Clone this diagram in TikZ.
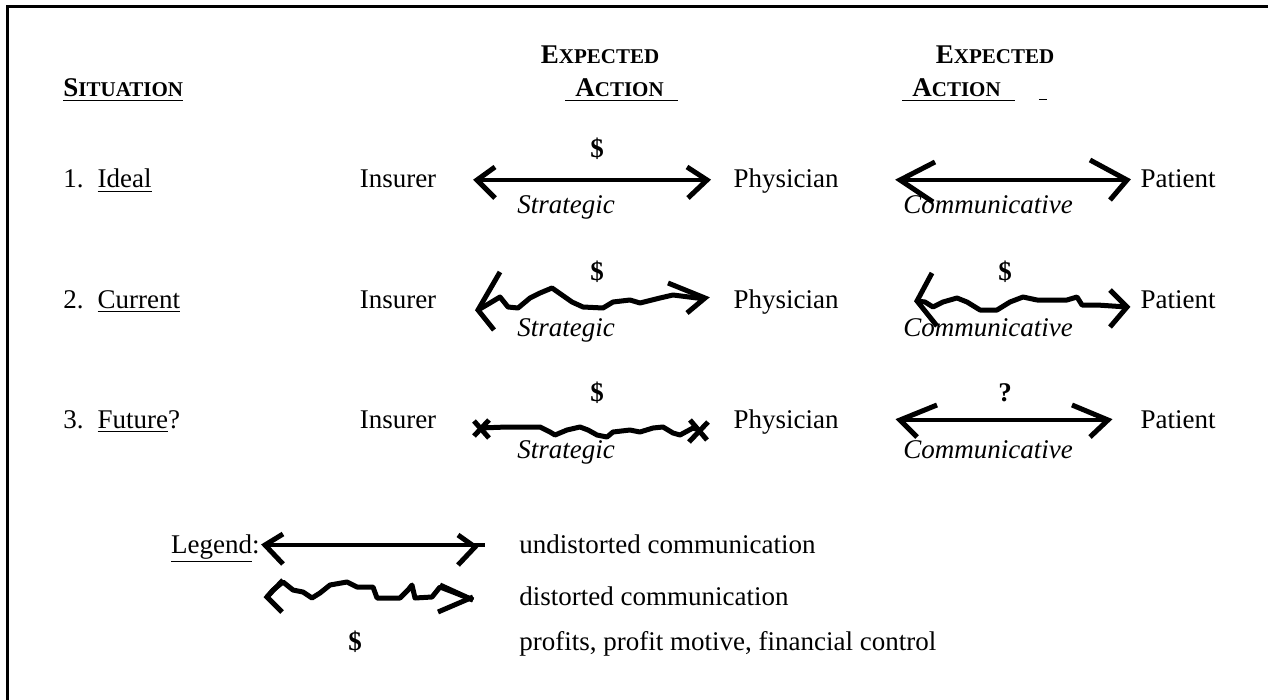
\documentclass[tikz,border=0pt]{standalone}
\usepackage{fontspec}
\setmainfont{Liberation Serif}

\begin{document}
\begin{tikzpicture}[x=0.5pt,y=-0.5pt,
    every node/.style={inner sep=0pt,font=\fontsize{13.5}{16}\selectfont},
    txt/.style={anchor=base},
    lbl/.style={anchor=base west},
    frameline/.style={line width=1.5pt},
    plainline/.style={line width=2pt},
    bentline/.style={line width=2.5pt,line join=round},
    barb/.style={line width=2.5pt}]
        \useasboundingbox (0,0) rectangle (1268,700);
        \draw[frameline] (7,700) -- (7,7) -- (1268,7);
        % headings
        \node[lbl] (sit) at (63,97) {\bfseries\underline{S{\fontsize{10.5}{12}\selectfont ITUATION}}};
        \node[txt] (exp1) at (600,64) {\bfseries E{\fontsize{10.5}{12}\selectfont XPECTED}};
        \node[lbl] (act1) at (565,97) {\bfseries\underline{\hspace{5pt}A{\fontsize{10.5}{12}\selectfont CTION}\hspace{7pt}}};
        \node[txt] (exp2) at (995,64) {\bfseries E{\fontsize{10.5}{12}\selectfont XPECTED}};
        \node[lbl] (act2) at (902,97) {\bfseries\underline{\hspace{5pt}A{\fontsize{10.5}{12}\selectfont CTION}\hspace{7pt}}\hspace{12pt}\underline{\hspace{4pt}}};
        % rows
        \node[lbl] (sit1) at (63,188) {1.\hspace{7pt}\underline{Ideal}};
        \node[lbl] (sit2) at (63,308) {2.\hspace{7pt}\underline{Current}};
        \node[lbl] (sit3) at (63,428) {3.\hspace{7pt}\underline{Future}?};
        \node[txt] (ins1) at (398,188) {Insurer};
        \node[txt] (ins2) at (398,308) {Insurer};
        \node[txt] (ins3) at (398,428) {Insurer};
        \node[txt] (phy1) at (786,188) {Physician};
        \node[txt] (phy2) at (786,308) {Physician};
        \node[txt] (phy3) at (786,428) {Physician};
        \node[anchor=base east] (pat1) at (1216,188) {Patient};
        \node[anchor=base east] (pat2) at (1216,308) {Patient};
        \node[anchor=base east] (pat3) at (1216,428) {Patient};
        \node[txt] (dol1) at (597,158) {\bfseries\$};
        \node[txt] (dol2) at (597,280) {\bfseries\$};
        \node[txt] (dol3) at (1005,280) {\bfseries\$};
        \node[txt] (dol4) at (597,401) {\bfseries\$};
        \node[txt] (ask) at (1005,401) {\bfseries ?};
        \node[txt] (str1) at (566,214) {\itshape Strategic};
        \node[txt] (str2) at (566,336) {\itshape Strategic};
        \node[txt] (str3) at (566,458) {\itshape Strategic};
        \node[lbl] (com1) at (903,214) {\itshape Communicative};
        \node[lbl] (com2) at (903,336) {\itshape Communicative};
        \node[lbl] (com3) at (903,458) {\itshape Communicative};
        % arrow ends
        \coordinate (a1) at (477,180);
        \coordinate (b1) at (707,180);
        \coordinate (c1) at (900,180);
        \coordinate (d1) at (1127,180);
        \coordinate (a2) at (478,310);
        \coordinate (b2) at (705,298);
        \coordinate (c2) at (917,301);
        \coordinate (d2) at (1127,307);
        \coordinate (a3) at (480,428);
        \coordinate (b3) at (699,430);
        \coordinate (c3) at (900,420);
        \coordinate (d3) at (1108,420);
        % 1. ideal
        \draw[plainline] (a1) -- (b1);
        \draw[barb] (a1) ++(18,-13) -- (a1) -- ++(18,18);
        \draw[barb] (b1) ++(-20,-13) -- (b1) -- ++(-19,18);
        \draw[plainline] (c1) -- (d1);
        \draw[barb] (c1) ++(35,-18) -- (c1) -- ++(33,22);
        \draw[barb] (d1) ++(-37,-20) -- (d1) -- ++(-17,20);
        % 2. current
        \draw[bentline] (a2) -- (490,303) -- (500,297) -- (508,307) -- (518,308) -- (530,298) -- (540,293) -- (552,288) -- (562,295) -- (572,302) -- (583,307) -- (603,308) -- (613,302) -- (630,300) -- (640,303) -- (660,298) -- (673,295) -- (697,298) -- (b2);
        \draw[barb] (a2) ++(22,-38) -- (a2) -- ++(16,20);
        \draw[barb] (b2) ++(-37,-15) -- (b2) -- ++(-18,15);
        \draw[bentline] (c2) -- (925,302) -- (933,307) -- (943,302) -- (957,298) -- (967,302) -- (980,310) -- (997,310) -- (1010,302) -- (1023,297) -- (1037,300) -- (1067,300) -- (1077,297) -- (1082,305) -- (1097,305) -- (d2);
        \draw[barb] (c2) ++(15,-28) -- (c2) -- ++(20,25);
        \draw[barb] (d2) ++(-17,-17) -- (d2) -- ++(-17,20);
        % 3. future
        \draw[bentline] (a3) -- (507,427) -- (540,427) -- (550,432) -- (555,435) -- (567,430) -- (580,427) -- (588,430) -- (597,435) -- (607,437) -- (613,432) -- (630,430) -- (640,432) -- (653,428) -- (663,427) -- (673,433) -- (680,435) -- (693,428) -- (b3);
        \draw[barb] (a3) ++(-6,-7) -- ++(15,17);
        \draw[barb] (a3) ++(9,-8) -- ++(-15,16);
        \draw[barb] (b3) ++(-9,-10) -- ++(17,20);
        \draw[barb] (b3) ++(9,-8) -- ++(-19,20);
        \draw[plainline] (c3) -- (d3);
        \draw[barb] (c3) ++(37,-15) -- (c3) -- ++(17,17);
        \draw[barb] (d3) ++(-36,-15) -- (d3) -- ++(-18,17);
        % legend
        \node[anchor=base east] (leg) at (260,553) {\underline{Legend}:};
        \coordinate (u1) at (265,545);
        \coordinate (u2) at (485,545);
        \coordinate (v1) at (267,597);
        \coordinate (v2) at (473,600);
        \draw[plainline] (u1) -- (u2);
        \draw[barb] (u1) ++(18,-11) -- (u1) -- ++(18,19);
        \draw[barb] (u2) ++(-27,-10) -- ++(17,12) -- ++(-17,18);
        \draw[bentline] (v1) -- (273,590) -- (283,582) -- (293,590) -- (303,592) -- (312,598) -- (320,593) -- (330,585) -- (347,582) -- (357,587) -- (373,587) -- (377,598) -- (400,598) -- (408,590) -- (412,585) -- (415,598) -- (432,597) -- (440,587) -- (453,592) -- (v2);
        \draw[barb] (v1) ++(16,-17) -- (v1) -- ++(15,15);
        \draw[barb] (v2) ++(-33,-15) -- (v2);
        \draw[barb] (v2) ++(0,-3) -- ++(-35,15);
        \node[txt] (legdol) at (355,650) {\bfseries\$};
        \node[lbl] (legu) at (519,553) {undistorted communication};
        \node[lbl] (legd) at (519,605) {distorted communication};
        \node[lbl] (legp) at (519,650) {profits, profit motive, financial control};
\end{tikzpicture}
\end{document}
